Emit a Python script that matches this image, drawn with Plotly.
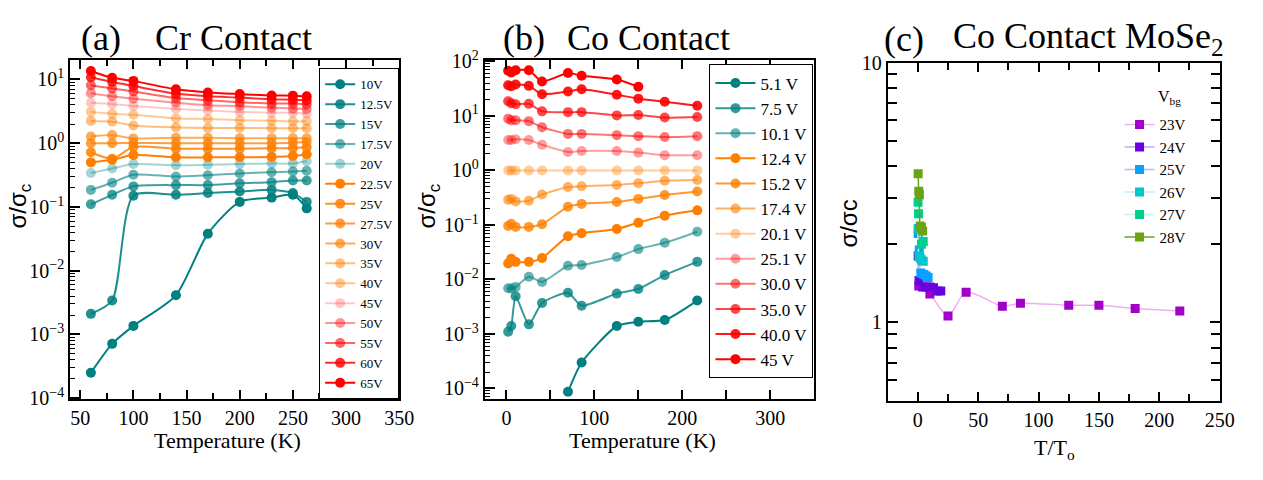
import plotly.graph_objects as go

W, H = 1263, 480


def px(x):
    return x / W


def py(y):
    return 1 - y / H


# ---------------- Panel (a): Cr contact ----------------
T_A = [60, 80, 100, 140, 170, 200, 230, 250, 263]
a_10 = [2.5e-4, 7.1e-4, 1.36e-3, 4.1e-3, 0.038, 0.12, 0.14, 0.155, 0.095]
a_12_5 = [2.1e-3, 3.4e-3, 0.15, 0.155, 0.165, 0.175, 0.185, 0.165, 0.12]
a_15 = [0.110, 0.155, 0.21, 0.22, 0.22, 0.235, 0.245, 0.26, 0.26]
a_17_5 = [0.185, 0.24, 0.32, 0.30, 0.315, 0.335, 0.35, 0.36, 0.37]
a_20 = [0.34, 0.40, 0.47, 0.45, 0.46, 0.47, 0.48, 0.48, 0.52]
a_22_5 = [0.50, 0.55, 0.65, 0.60, 0.60, 0.60, 0.61, 0.63, 0.67]
a_25 = [0.72, 0.57, 0.87, 0.82, 0.82, 0.82, 0.83, 0.84, 0.86]
a_27_5 = [1.0, 1.0, 1.01, 1.0, 1.0, 1.0, 1.0, 1.02, 1.04]
a_30 = [1.27, 1.34, 1.19, 1.22, 1.22, 1.2, 1.2, 1.2, 1.2]
a_35 = [2.24, 2.18, 1.9, 1.77, 1.73, 1.73, 1.72, 1.72, 1.72]
a_40 = [3.1, 2.9, 2.8, 2.45, 2.4, 2.3, 2.25, 2.2, 2.2]
a_45 = [4.3, 4.1, 3.85, 3.45, 3.25, 3.1, 3.0, 3.0, 2.9]
a_50 = [6.1, 5.45, 5.0, 4.3, 3.95, 3.8, 3.6, 3.5, 3.45]
a_55 = [8.1, 7.2, 6.5, 5.1, 4.7, 4.4, 4.2, 4.2, 4.1]
a_60 = [10.8, 9.1, 7.9, 6.0, 5.45, 5.2, 4.9, 4.8, 4.7]
a_65 = [13.6, 10.6, 9.5, 7.0, 6.25, 5.9, 5.6, 5.57, 5.45]
A_NAMES = ["10V", "12.5V", "15V", "17.5V", "20V", "22.5V", "25V", "27.5V",
           "30V", "35V", "40V", "45V", "50V", "55V", "60V", "65V"]

# ---------------- Panel (b): Co contact ----------------
T_B = [2, 5.5, 10.5, 25.5, 40.5, 70, 85.5, 125.5, 150, 180, 217]
b_5_1 = [None, None, None, None, None, 8.7e-5, 3.0e-4, 1.4e-3, 1.68e-3, 1.8e-3, 4.1e-3]
b_7_5 = [1.1e-3, 1.4e-3, 4.9e-3, 1.5e-3, 3.7e-3, 5.7e-3, 3.3e-3, 5.5e-3, 6.7e-3, 0.012, 0.021]
b_10_1 = [0.0069, 0.0068, 0.0073, 0.0112, 0.009, 0.0178, 0.0184, 0.0257, 0.036, 0.047, 0.075]
b_12_4 = [0.0197, 0.024, 0.021, 0.021, 0.0247, 0.062, 0.0705, 0.084, 0.11, 0.148, 0.185]
b_15_2 = [0.096, 0.105, 0.092, 0.092, 0.103, 0.215, 0.243, 0.263, 0.30, 0.355, 0.41]
b_17_4 = [0.29, 0.30, 0.27, 0.277, 0.36, 0.494, 0.51, 0.54, 0.58, 0.645, 0.665]
b_20_1 = [1.0, 1.0, 1.0, 1.0, 1.0, 1.0, 1.0, 1.0, 1.0, 1.0, 1.0]
b_25_1 = [3.62, 3.62, 3.72, 3.6, 2.96, 2.17, 2.26, 2.26, 2.12, 1.9, 1.9]
b_30_0 = [8.9, 8.3, 8.3, 8.0, 6.2, 4.67, 4.67, 4.43, 4.25, 4.09, 4.25]
b_35_0 = [18.6, 17.0, 16.3, 16.6, 12.1, 11.7, 11.7, 10.2, 10.4, 9.3, 9.5]
b_40_0 = [36.5, 35.0, 37.5, 35.5, 25.0, 28.0, 30.7, 24.4, 20.7, 18.2, 15.3]
b_45 = [67, 62.5, 68.8, 68.8, 42.8, 61, 54.6, 46.5, 34.2, None, None]
B_NAMES = ["5.1 V", "7.5 V", "10.1 V", "12.4 V", "15.2 V", "17.4 V", "20.1 V",
           "25.1 V", "30.0 V", "35.0 V", "40.0 V", "45 V"]

# ---------------- Panel (c): Co contact MoSe2 ----------------
c_23_x = [0.8, 10, 25, 40, 70, 85, 125, 150, 180, 217]
c_23_y = [1.38, 1.285, 1.058, 1.307, 1.155, 1.185, 1.164, 1.164, 1.132, 1.107]
c_24_x = [0.3, 1.0, 4, 7, 10, 13, 16, 19]
c_24_y = [1.8, 1.45, 1.37, 1.37, 1.37, 1.36, 1.32, 1.32]
c_25_x = [0.3, 1.2, 2.5, 5, 7, 8.5]
c_25_y = [2.2, 1.9, 1.55, 1.53, 1.51, 1.49]
c_26_x = [0.3, 1.0, 2.0, 3.0, 4.5]
c_26_y = [2.3, 1.8, 1.77, 1.74, 1.72]
c_27_x = [0.2, 0.6, 1.5, 3.0, 4.5]
c_27_y = [2.9, 2.62, 2.3, 2.0, 2.05]
c_28_x = [0.3, 0.8, 1.3, 2.0, 3.0, 4.0]
c_28_y = [3.73, 3.2, 3.1, 2.35, 2.32, 2.25]
C_NAMES = ["23V", "24V", "25V", "26V", "27V", "28V"]

SERIF = "Liberation Serif"
SANS = "Liberation Sans"

TEAL = (0, 128, 128)
ORANGE = (255, 127, 0)
RED = (255, 0, 0)


def rgba(c, a):
    return f"rgba({c[0]},{c[1]},{c[2]},{a})"


fig = go.Figure()

a_data = [a_10, a_12_5, a_15, a_17_5, a_20, a_22_5, a_25, a_27_5, a_30, a_35,
          a_40, a_45, a_50, a_55, a_60, a_65]
a_cols = ([(TEAL, al) for al in (1.0, 0.88, 0.75, 0.6, 0.35)] +
          [(ORANGE, al) for al in (1.0, 0.85, 0.75, 0.65, 0.5, 0.42)] +
          [(RED, al) for al in (0.22, 0.42, 0.6, 0.82, 1.0)])
for name, ys, (c, al) in zip(A_NAMES, a_data, a_cols):
    col = rgba(c, al)
    fig.add_trace(go.Scatter(
        x=T_A, y=ys, name=name, mode="lines+markers",
        line=dict(color=col, width=2, shape="spline", smoothing=0.7),
        marker=dict(color=col, size=10),
        xaxis="x", yaxis="y", legend="legend"))

b_data = [b_5_1, b_7_5, b_10_1, b_12_4, b_15_2, b_17_4, b_20_1, b_25_1,
          b_30_0, b_35_0, b_40_0, b_45]
b_cols = ([(TEAL, al) for al in (1.0, 0.8, 0.6)] +
          [(ORANGE, al) for al in (1.0, 0.8, 0.6, 0.38)] +
          [(RED, al) for al in (0.38, 0.55, 0.72, 0.9, 1.0)])
for name, ys, (c, al) in zip(B_NAMES, b_data, b_cols):
    col = rgba(c, al)
    fig.add_trace(go.Scatter(
        x=T_B, y=ys, name=name, mode="lines+markers",
        line=dict(color=col, width=2, shape="spline", smoothing=0.6),
        marker=dict(color=col, size=10),
        xaxis="x2", yaxis="y2", legend="legend2"))

c_data = [(c_23_x, c_23_y), (c_24_x, c_24_y), (c_25_x, c_25_y),
          (c_26_x, c_26_y), (c_27_x, c_27_y), (c_28_x, c_28_y)]
c_mark = ["#a000c8", "#6a00e0", "#0aa0ff", "#00c8c8", "#00d08c", "#6aa414"]
c_line = ["#f0b0f0", "#c8a8f0", "#b8c0f0", "#c8eaf8", "#c0f8f0", "#6aa414"]
for name, (xs, ys), mc, lc in zip(C_NAMES, c_data, c_mark, c_line):
    fig.add_trace(go.Scatter(
        x=xs, y=ys, name=name, mode="lines+markers",
        line=dict(color=lc, width=1.5, shape="spline", smoothing=0.8),
        marker=dict(color=mc, size=9, symbol="square"),
        xaxis="x3", yaxis="y3", legend="legend3"))


# ---------------- axes ----------------
def pow_text(e):
    if e < 0:
        return f"10<sup>\u2212{abs(e)}</sup>"
    return f"10<sup>{e}</sup>"


def minor_log(lo, hi):
    vals = []
    for e in range(lo, hi + 1):
        for m in range(2, 10):
            vals.append(m * 10.0 ** e)
    return vals


tickfont = dict(family=SERIF, size=20, color="black")
common_x = dict(showgrid=False, zeroline=False, showline=True, linecolor="black",
                linewidth=2, mirror="allticks", ticks="inside", ticklen=9,
                tickwidth=1.5, tickcolor="black", tickfont=tickfont)
common_y = dict(showgrid=False, zeroline=False, showline=True, linecolor="black",
                linewidth=2, ticks="inside", ticklen=10, tickwidth=1.5,
                tickcolor="black", tickfont=tickfont, type="log")

a_exp = [-4, -3, -2, -1, 0, 1]
b_exp = [-4, -3, -2, -1, 0, 1, 2]

fig.update_layout(
    xaxis=dict(**common_x, domain=[px(71), px(404)], range=[40.5, 350],
               tickmode="linear", tick0=50, dtick=50, anchor="y",
               minor=dict(dtick=25, tick0=0, ticks="inside", ticklen=6,
                          tickwidth=1.5, tickcolor="black")),
    yaxis=dict(**common_y, domain=[py(406), py(50)], range=[-4.02, 1.31],
               mirror=True, anchor="x",
               tickmode="array", tickvals=[10.0 ** e for e in a_exp],
               ticktext=[pow_text(e) for e in a_exp],
               minor=dict(tickmode="array", tickvals=minor_log(-4, 1),
                          ticks="inside", ticklen=5, tickwidth=1,
                          tickcolor="black")),
    xaxis2=dict(**common_x, domain=[px(490.7), px(824)], range=[-24.5, 350],
                tickmode="linear", tick0=0, dtick=100, anchor="y2",
                minor=dict(dtick=50, tick0=0, ticks="inside", ticklen=9,
                           tickwidth=1.5, tickcolor="black")),
    yaxis2=dict(**common_y, domain=[py(406), py(50)], range=[-4.2, 2.03],
                mirror=True, anchor="x2",
                tickmode="array", tickvals=[10.0 ** e for e in b_exp],
                ticktext=[pow_text(e) for e in b_exp],
                minor=dict(tickmode="array", tickvals=minor_log(-5, 1),
                           ticks="inside", ticklen=5, tickwidth=1,
                           tickcolor="black")),
    xaxis3=dict(**common_x, domain=[px(898.3), px(1234.3)], range=[-25, 250],
                tickmode="linear", tick0=0, dtick=50, anchor="y3",
                minor=dict(dtick=25, tick0=0, ticks="inside", ticklen=7,
                           tickwidth=1.5, tickcolor="black")),
    yaxis3=dict(**common_y, domain=[py(407.3), py(53)], range=[-0.301, 1.0],
                mirror="allticks", anchor="x3",
                tickmode="array", tickvals=[1, 10], ticktext=["1", "10"],
                minor=dict(tickmode="array",
                           tickvals=[0.6, 0.7, 0.8, 0.9, 2, 3, 4, 5, 6, 7, 8, 9],
                           ticks="inside", ticklen=9, tickwidth=1.5,
                           tickcolor="black")),
)

fig.update_layout(
    width=W, height=H,
    margin=dict(l=0, r=0, t=0, b=0),
    paper_bgcolor="white", plot_bgcolor="white",
    font=dict(family=SERIF, color="black", size=14),
    showlegend=True,
    legend=dict(x=px(323), y=py(59), xanchor="left", yanchor="top",
                bordercolor="black", borderwidth=1, bgcolor="white",
                font=dict(family=SERIF, size=13, color="black"),
                tracegroupgap=0),
    legend2=dict(x=px(718), y=py(55), xanchor="left", yanchor="top",
                 bordercolor="black", borderwidth=1, bgcolor="white",
                 font=dict(family=SERIF, size=17, color="black"),
                 tracegroupgap=0, itemwidth=40),
    legend3=dict(x=px(1133), y=py(101), xanchor="left", yanchor="top",
                 borderwidth=0, bgcolor="rgba(0,0,0,0)",
                 font=dict(family=SERIF, size=15, color="black"),
                 tracegroupgap=0),
)


def ann(text, x, y, size, family=SERIF, xanchor="left", angle=0):
    fig.add_annotation(text=text, x=px(x), y=py(y), xref="paper", yref="paper",
                       showarrow=False, xanchor=xanchor, yanchor="middle",
                       textangle=angle,
                       font=dict(family=family, size=size, color="black"))


# titles
ann("(a)", 80, 27, 36)
ann("Cr Contact", 155, 27, 36)
ann("(b)", 507, 27, 36)
ann("Co Contact", 572, 27, 36)
ann("(c)", 893, 28, 36)
ann("Co Contact MoSe<sub>2</sub>", 962, 28, 36)

# axis titles
ann("Temperature (K)", 230, 449, 22, xanchor="center")
ann("Temperature (K)", 650, 449, 22, xanchor="center")
ann("T/T<sub>o</sub>", 1067, 458, 22, xanchor="center")
ann("\u03c3/\u03c3<sub>c</sub>", 20, 203, 24, family=SANS, xanchor="center", angle=-90)
ann("\u03c3/\u03c3<sub>c</sub>", 434, 203, 24, family=SANS, xanchor="center", angle=-90)
ann("\u03c3/\u03c3c", 859, 222, 24, family=SANS, xanchor="center", angle=-90)

# legend title for (c)
ann("V<sub>bg</sub>", 1170, 90, 16)

fig.write_html("out.html")
